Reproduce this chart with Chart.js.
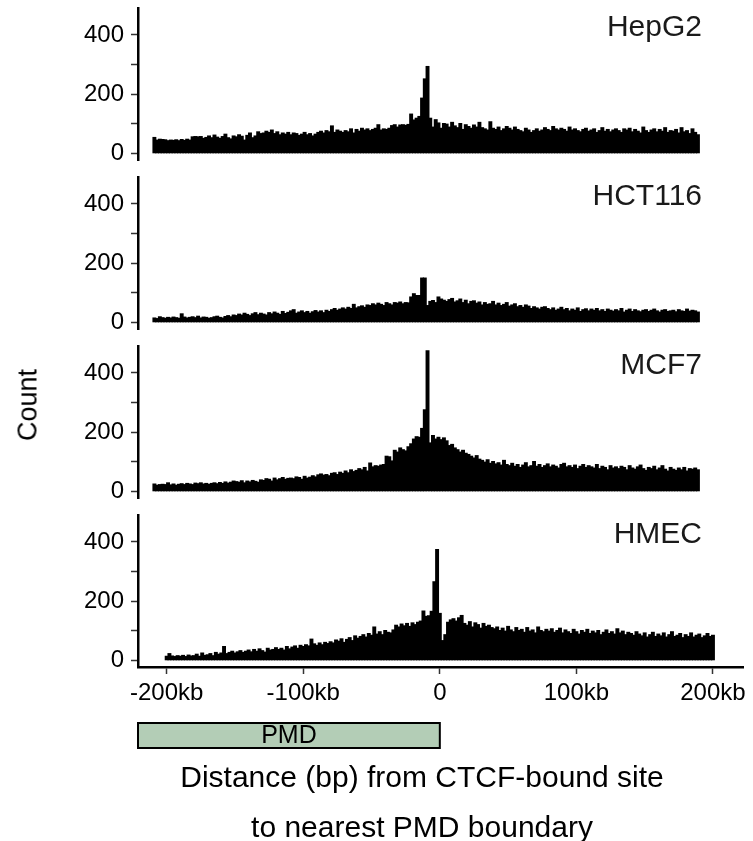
<!DOCTYPE html>
<html>
<head>
<meta charset="utf-8">
<script src="https://cdn.jsdelivr.net/npm/chart.js@4.4.1/dist/chart.umd.min.js"></script>
<style>
  body { margin: 0; background: #fff; }
  #wrap { position: relative; width: 753px; height: 841px; overflow: hidden; }
  canvas { position: absolute; left: 0; }
  #ylab {
    position: absolute; left: 28px; top: 405px;
    transform: translate(-50%, -50%) rotate(-90deg);
    font: 27px 'Liberation Sans', Arial, Helvetica, sans-serif;
    color: #000; white-space: nowrap;
  }
</style>
</head>
<body>
<div id="wrap">
  <canvas id="p0" width="753" height="169" style="top:0px"></canvas>
  <canvas id="p1" width="753" height="169" style="top:169px"></canvas>
  <canvas id="p2" width="753" height="169" style="top:338px"></canvas>
  <canvas id="p3" width="753" height="334" style="top:507px"></canvas>
  <div id="ylab">Count</div>
</div>
<script>
// panels, top to bottom
const cellLines = ['HepG2', 'HCT116', 'MCF7', 'HMEC'];
// centre of the first 2kb bin of each panel, in kb
const binStart = [-209, -209, -209, -200];
const binWidth = 2;

// counts per 2kb bin
const hepg2 = [
  53, 44, 47, 46, 45, 42, 44, 43, 45, 42,
  46, 43, 47, 44, 55, 56, 55, 56, 50, 53,
  58, 52, 61, 54, 50, 56, 64, 52, 48, 58,
  55, 62, 57, 44, 60, 68, 52, 58, 72, 66,
  68, 74, 70, 78, 66, 72, 62, 68, 64, 70,
  62, 68, 66, 60, 64, 70, 62, 66, 58, 64,
  70, 74, 68, 76, 72, 92, 70, 78, 74, 70,
  76, 72, 82, 68, 80, 74, 84, 78, 82, 76,
  80, 84, 96, 78, 82, 80, 84, 93, 96, 88,
  95, 96, 94, 97, 132, 112, 118, 124, 186, 251,
  293, 118, 88, 113, 102, 84, 100, 98, 88, 104,
  92, 86, 100, 80, 96, 90, 84, 95, 88, 104,
  86, 82, 78, 106, 84, 80, 88, 76, 82, 90,
  84, 78, 88, 80, 76, 72, 84, 78, 70, 76,
  82, 74, 78, 86, 80, 76, 90, 82, 78, 84,
  80, 74, 88, 78, 82, 76, 72, 80, 84, 74,
  78, 82, 70, 76, 86, 74, 80, 72, 78, 82,
  76, 70, 82, 78, 84, 72, 80, 74, 68, 88,
  76, 70, 78, 82, 72, 80, 74, 86, 70, 76,
  74, 80, 68, 86, 72, 76, 66, 82, 70, 62
];
const hct116 = [
  14, 12, 18, 15, 13, 16, 14, 17, 15, 13,
  28, 17, 14, 16, 18, 15, 20, 14, 17, 16,
  13, 15, 18, 20, 16, 14, 19, 22, 18, 24,
  22, 27, 24, 30, 26, 22, 28, 32, 25, 30,
  27, 24, 32, 28, 34, 30, 26, 36, 29, 33,
  38, 42, 30, 34, 38, 32, 36, 30, 35, 39,
  34, 38, 32, 40, 36, 42, 46, 40, 44, 48,
  44, 50, 46, 60, 48, 52, 55, 50, 58, 56,
  62, 58, 64, 60, 56, 66, 62, 58, 66, 64,
  68, 62, 66, 65, 85, 96, 90, 90, 149, 149,
  56, 70, 73, 66, 85, 78, 74, 70, 76, 80,
  68, 72, 78, 66, 74, 62, 70, 72, 64, 68,
  58, 66, 60, 62, 70, 58, 64, 56, 60, 66,
  54, 58, 62, 52, 56, 50, 58, 54, 46, 52,
  48, 44, 50, 52, 46, 42, 48, 40, 44, 50,
  42, 46, 38, 44, 40, 48, 36, 42, 45, 38,
  44, 40, 46, 38, 42, 36, 44, 40, 37, 42,
  38, 46, 34, 40, 44, 36, 42, 38, 35, 40,
  42, 36, 40, 44, 38, 34, 40, 42, 36, 38,
  40, 35, 42, 38, 36, 44, 37, 40, 38, 34
];
const mcf7 = [
  24, 20, 22, 23, 22, 28, 21, 24, 20, 23,
  25, 22, 26, 24, 22, 27, 25, 28, 24, 26,
  23, 26, 28, 25, 29, 26, 31, 27, 30, 34,
  32, 30, 35, 28, 34, 31, 36, 33, 30, 38,
  36, 42, 40, 34, 44, 38, 42, 46, 40, 43,
  44, 42, 48, 46, 40, 50, 44, 47, 52, 48,
  55, 58, 54, 56, 52, 60, 62, 56, 64, 60,
  68, 62, 72, 66, 70, 76, 72, 80, 68, 95,
  82, 86, 84, 88, 90, 118, 116, 102, 138, 132,
  146, 140, 136, 150, 160, 176, 184, 182, 212, 275,
  475, 163, 188, 176, 182, 174, 180, 170, 154, 158,
  146, 140, 132, 138, 128, 124, 118, 112, 120, 108,
  104, 98, 106, 94, 100, 92, 96, 88, 104, 90,
  86, 94, 84, 90, 80, 88, 96, 82, 86, 100,
  84, 90, 80, 86, 92, 82, 88, 84, 78, 90,
  94, 82, 86, 80, 88, 76, 84, 90, 80, 86,
  82, 78, 90, 76, 84, 80, 72, 86, 78, 82,
  76, 84, 80, 72, 86, 78, 74, 82, 88, 76,
  70, 80, 76, 84, 72, 78, 86, 74, 68, 80,
  74, 70, 78, 72, 80, 68, 76, 74, 78, 72
];
const hmec = [
  13, 22, 14, 12, 15, 13, 16, 12, 17, 14,
  15, 20, 13, 24, 16, 18, 22, 15, 26, 20,
  24, 46, 22, 26, 30, 24, 28, 32, 26, 30,
  34, 28, 36, 30, 38, 32, 27, 40, 34, 36,
  42, 36, 40, 34, 46, 38, 44, 48, 40, 50,
  46, 52, 48, 71, 55, 50, 58, 52, 60, 56,
  62, 58, 68, 64, 72, 60, 70, 76, 66, 82,
  74, 80, 86, 78, 90, 84, 112, 88, 96, 86,
  100, 94, 92, 102, 118, 112, 122, 116, 124, 114,
  126, 120, 128, 132, 166, 148, 150, 165, 265, 374,
  158, 66, 86, 128, 136, 140, 132, 143, 151, 124,
  118, 130, 112, 126, 120, 108, 124, 114, 118, 110,
  106, 112, 100, 108, 98, 114, 102, 96, 110, 100,
  104, 94, 110, 98, 102, 92, 112, 100, 96, 104,
  98, 106, 94, 100, 108, 92, 102, 96, 90, 104,
  96, 88, 100, 94, 104, 90, 98, 92, 100, 86,
  94, 102, 90, 96, 88, 106, 92, 98, 86, 94,
  90, 84, 96, 88, 82, 92, 78, 86, 94, 80,
  88, 82, 92, 78, 86, 96, 80, 84, 90, 76,
  86, 80, 92, 78, 84, 88, 76, 82, 90, 80,
  84
];
const counts = [hepg2, hct116, mcf7, hmec];

const xTicks = [-200, -100, 0, 100, 200];
const yTicks = [0, 100, 200, 300, 400];
const xTitle = ['Distance (bp) from CTCF-bound site', 'to nearest PMD boundary'];

const FONT = "'Liberation Sans', Arial, Helvetica, sans-serif";
Chart.defaults.font.family = FONT;
Chart.defaults.color = '#000';

// cell line name in the top right of each panel
const panelLabel = {
  id: 'panelLabel',
  afterDraw(chart, args, opts) {
    const { ctx, chartArea } = chart;
    ctx.save();
    ctx.font = '30px ' + FONT;
    ctx.fillStyle = '#1a1a1a';
    ctx.textAlign = 'right';
    ctx.textBaseline = 'alphabetic';
    ctx.fillText(opts.text, 702, chartArea.top + 28);
    ctx.restore();
  }
};

// PMD bar under the x axis + the two line axis title
const pmdBox = {
  id: 'pmdBox',
  afterDraw(chart, args, opts) {
    if (!opts.show) return;
    const { ctx } = chart;
    const x = chart.scales.x;
    const left = x.getPixelForValue(x.min);
    const right = x.getPixelForValue(0);
    const top = 216, h = 25;
    ctx.save();
    ctx.fillStyle = '#b3cdb6';
    ctx.fillRect(left, top, right - left, h);
    ctx.lineWidth = 2;
    ctx.strokeStyle = '#000';
    ctx.strokeRect(left, top, right - left, h);
    ctx.fillStyle = '#000';
    ctx.textAlign = 'center';
    ctx.textBaseline = 'middle';
    ctx.font = '25px ' + FONT;
    ctx.fillText('PMD', (left + right) / 2, top + h / 2 + 1);
    ctx.font = '30px ' + FONT;
    ctx.fillText(xTitle[0], 422, 272);
    ctx.fillText(xTitle[1], 422, 322);
    ctx.restore();
  }
};

function makePanel(i) {
  const bottom = i === cellLines.length - 1;
  const data = counts[i].map((v, k) => ({ x: binStart[i] + binWidth * k, y: v }));
  return new Chart(document.getElementById('p' + i), {
    type: 'bar',
    data: {
      datasets: [{
        data: data,
        backgroundColor: '#000',
        borderWidth: 0,
        inflateAmount: 0.6,
        barPercentage: 1,
        categoryPercentage: 1
      }]
    },
    options: {
      responsive: false,
      animation: false,
      devicePixelRatio: 1,
      layout: { padding: { top: 8, bottom: bottom ? 0 : 9, left: 0, right: 10 } },
      plugins: {
        legend: { display: false },
        tooltip: { enabled: false },
        panelLabel: { text: cellLines[i] },
        pmdBox: { show: bottom }
      },
      scales: {
        x: {
          type: 'linear',
          min: -221,
          max: 222,
          offset: false,
          display: bottom,
          afterBuildTicks: s => { s.ticks = xTicks.map(v => ({ value: v })); },
          afterFit: s => {
            if (!bottom) return;
            s.height = 174; s.paddingLeft = 0; s.paddingRight = 0;
          },
          ticks: {
            callback: v => v === 0 ? '0' : v + 'kb',
            font: { size: 24 },
            color: '#000',
            padding: 5,
            maxRotation: 0,
            autoSkip: false
          },
          grid: { offset: false, drawOnChartArea: false, tickLength: 7, tickWidth: 1.5, tickColor: '#333' },
          border: { display: true, color: '#000', width: 2.5 }
        },
        y: {
          min: -23,
          max: 491,
          afterBuildTicks: s => { s.ticks = yTicks.map(v => ({ value: v })); },
          afterFit: s => { s.width = 138; s.paddingTop = 0; s.paddingBottom = 0; },
          ticks: {
            callback: v => v % 200 === 0 ? String(v) : '',
            font: { size: 24 },
            color: '#000',
            padding: 7
          },
          grid: { drawOnChartArea: false, tickLength: 7, tickWidth: 1.5, tickColor: '#333' },
          border: { display: true, color: '#000', width: 2.5 }
        }
      }
    },
    plugins: [panelLabel, pmdBox]
  });
}

cellLines.forEach((name, i) => makePanel(i));
</script>
</body>
</html>
